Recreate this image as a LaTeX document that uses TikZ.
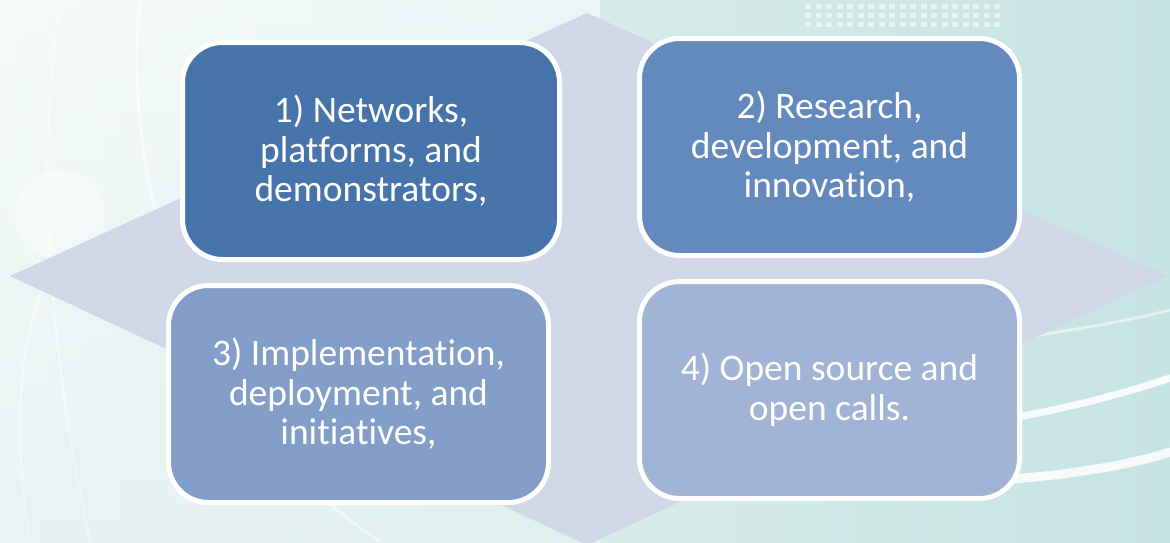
\documentclass[tikz,border=0pt]{standalone}
\usepackage{fontspec}
\setmainfont{Carlito}[Ligatures=NoCommon]
\definecolor{bgL}{HTML}{E9F3F3}
\definecolor{bgR}{HTML}{C6E4E2}
\definecolor{dia}{HTML}{D0D8E7}
\definecolor{cA}{HTML}{4773AB}
\definecolor{cB}{HTML}{6489BD}
\definecolor{cC}{HTML}{819DC8}
\definecolor{cD}{HTML}{A2B4D5}
\tikzset{
  box/.style={draw=white, line width=5pt, rounded corners=40pt, align=center,
    text=white, font=\fontsize{37.5}{39.5}\selectfont, inner sep=0pt},
  swoosh/.style={white, line cap=round},
}
\begin{document}
\begin{tikzpicture}[x=1pt,y=-1pt]
\useasboundingbox (0,0) rectangle (1170,542);
% background
\shade[left color=bgL, right color=bgR] (0,0) rectangle (1170,542);
\shade[top color=white, bottom color=bgL, opacity=0.5] (0,0) rectangle (600,542);
\fill[white, opacity=0.35] (60,215) circle (45pt);
\draw[white, opacity=0.5, line width=3pt] (140,0) .. controls (120,200) and (200,420) .. (380,542);
\draw[white, opacity=0.4, line width=2pt] (30,542) .. controls (10,420) and (20,320) .. (60,250);
\draw[white, opacity=0.4, line width=2pt] (60,0) .. controls (40,150) and (40,300) .. (90,542);
\foreach \i in {0,...,18} {
  \foreach \j in {0,1,2} {
    \fill[white, opacity=0.55] (805+\i*10.5,4+\j*9) rectangle ++(6,5);
  }
}
\draw[swoosh, line width=7pt, opacity=0.9] (1000,420) .. controls (1060,410) and (1120,395) .. (1170,378);
\draw[swoosh, line width=9pt, opacity=0.85] (1000,480) .. controls (1070,475) and (1130,465) .. (1170,452);
\draw[white, opacity=0.5, line width=3pt] (1000,340) .. controls (1080,330) and (1130,320) .. (1170,310);
% diamond
\fill[dia] (587,13) -- (1168,276) -- (587,545) -- (10,276) -- cycle;
% boxes
\node[box, fill=cA, minimum width=377pt, minimum height=217pt] (b1) at (371,151)
  {1) Networks,\\platforms, and\\demonstrators,};
\node[box, fill=cB, minimum width=380pt, minimum height=217pt] (b2) at (829.5,147)
  {2) Research,\\development, and\\innovation,};
\node[box, fill=cC, minimum width=380pt, minimum height=217pt] (b3) at (358.5,394)
  {3) Implementation,\\deployment, and\\initiatives,};
\node[box, fill=cD, minimum width=380pt, minimum height=217pt] (b4) at (829.5,390)
  {4) Open source and\\open calls.};
\end{tikzpicture}
\end{document}
